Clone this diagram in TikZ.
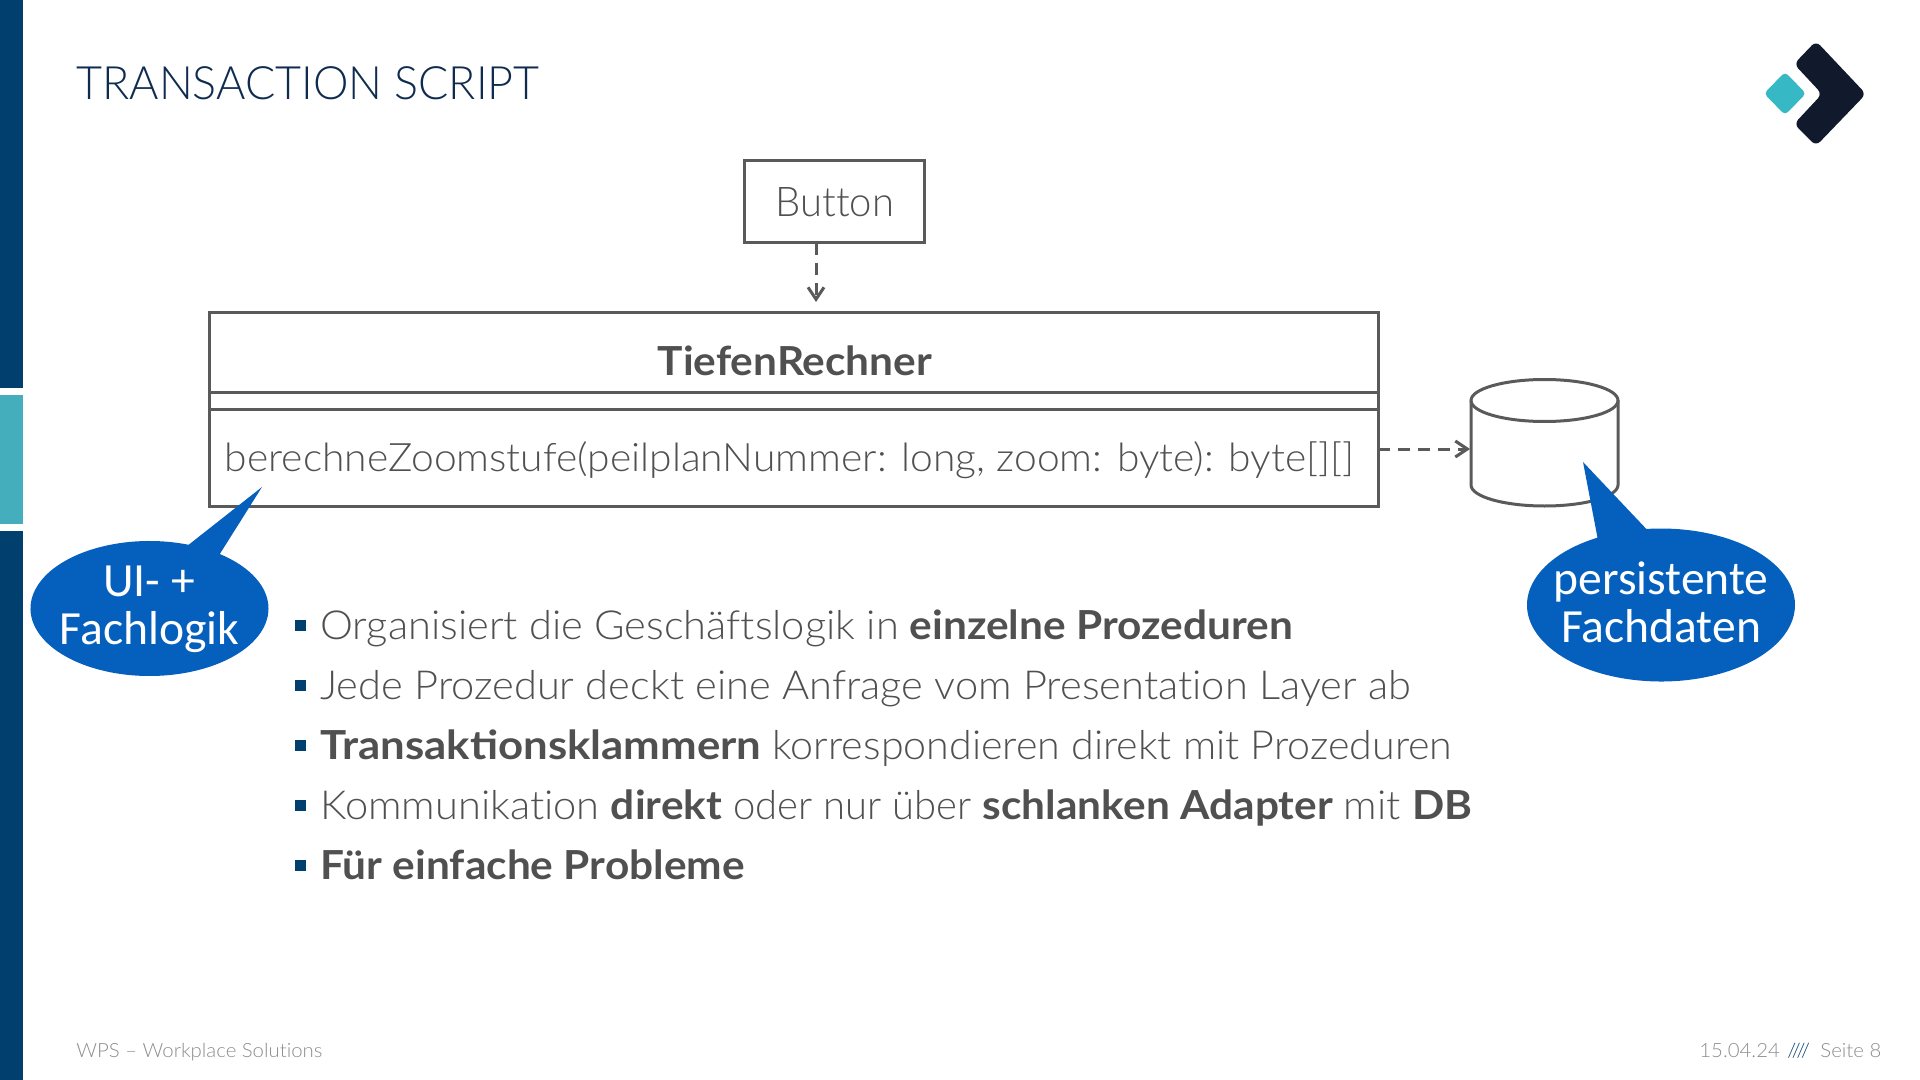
\documentclass[tikz,border=0pt]{standalone}
\usepackage{fontspec}
\setmainfont{Lato}[UprightFont={* Light},BoldFont={* Bold},Ligatures=NoCommon,FakeStretch=1.04,BoldFeatures={FakeStretch=1.06}]
\newfontfamily\narrowfont{Lato Light}[Ligatures=NoCommon,FakeStretch=0.975]
\newfontfamily\widefont{Lato Bold}[FakeStretch=1.094]
\newfontfamily\callfont{Carlito}
\usetikzlibrary{shapes.callouts,arrows.meta}
\definecolor{barblue}{HTML}{003F6E}
\definecolor{barteal}{HTML}{45AEBD}
\definecolor{titleblue}{HTML}{0F2C50}
\definecolor{textgrey}{HTML}{505050}
\definecolor{linegrey}{HTML}{5A5A5A}
\definecolor{footgrey}{HTML}{8C8C8C}
\definecolor{callblue}{HTML}{0560BD}
\definecolor{logodark}{HTML}{111A2C}
\definecolor{logoteal}{HTML}{36B8C5}
\tikzset{
  umlbox/.style={draw=linegrey,line width=1.5pt,inner sep=0pt,outer sep=0pt,anchor=north west},
  depend/.style={draw=linegrey,line width=1.5pt,dash pattern=on 6pt off 4pt,-{Straight Barb[length=6pt,width=8pt]}},
  callout/.style={ellipse callout,fill=callblue,inner sep=0pt},
  calltext/.style={anchor=base,inner sep=0pt,text=white,font=\callfont\fontsize{23.8}{28}\selectfont},
  bullet/.style={fill=barblue,inner sep=0pt,minimum size=5.5pt},
  bodytext/.style={anchor=base west,inner sep=0pt,text=textgrey,font=\fontsize{20}{24}\selectfont},
  foottext/.style={anchor=base west,inner sep=0pt,text=footgrey,font=\fontsize{9.8}{12}\selectfont}
}
\begin{document}
\begin{tikzpicture}[x=0.5pt,y=-0.5pt]  % one unit is one pixel of the slide

\useasboundingbox (0,0) rectangle (1920,1080);

% Side bar
\fill[barblue] (0,0) rectangle (23,388);
\fill[barteal] (0,395) rectangle (23,524);
\fill[barblue] (0,531) rectangle (23,1080);

% Title and logo
\node[anchor=base west,inner sep=0pt,text=titleblue,font=\narrowfont\fontsize{23}{28}\selectfont] (title) at (76,100) {TRANSACTION SCRIPT};
\fill[logoteal,rounded corners=2pt] (1785,72) -- (1806,93.5) -- (1785,115) -- (1764,93.5) -- cycle;
\fill[logodark,rounded corners=3pt] (1816,41) -- (1866,94) -- (1816,146) -- (1794,124) -- (1822,94) -- (1794,64) -- cycle;

% Class box (3 compartments)
\node[umlbox,minimum width=584.25pt,minimum height=39.5pt] (rechnerHead) at (209.5,313) {};
\node[umlbox,minimum width=584.25pt,minimum height=8.5pt] (rechnerAttr) at (209.5,392) {};
\node[umlbox,minimum width=584.25pt,minimum height=48.5pt] (rechnerOps) at (209.5,409) {};
\node[anchor=base,inner sep=0pt,text=textgrey,font=\bfseries\fontsize{20}{24}\selectfont] (rechnerName) at (795,375.5) {TiefenRechner};
\node[anchor=base west,inner sep=0pt,text=textgrey,font=\fontsize{19.6}{24}\selectfont] (rechnerCall) at (224.5,471.5) {berechneZoomstufe(peilplanNummer: long, zoom: byte): byte[][]};

% Button and data store
\node[umlbox,anchor=center,minimum width=90pt,minimum height=41pt] (button) at (834.5,202) {};
\node[anchor=base,inner sep=0pt,text=textgrey,font=\narrowfont\fontsize{20.5}{24}\selectfont] (buttonName) at (835,217) {Button};
\draw[linegrey,line width=1.5pt,fill=white] (1544.5,400.5) ellipse [x radius=36.75pt,y radius=10.5pt];
\draw[linegrey,line width=1.5pt] (1471,400.5) -- (1471,485) arc [start angle=180,end angle=360,x radius=36.75pt,y radius=10.5pt] -- (1618,400.5);

% Dependencies
\coordinate (depButton) at (816,302);
\coordinate (depStore) at (1470,449);
\draw[depend] (depButton |- button.south) -- (depButton);
\draw[depend] (depStore -| rechnerOps.east) -- (depStore);

% Callouts
\node[callout,minimum width=119pt,minimum height=67.5pt,callout pointer arc=17,callout absolute pointer={(262,487)}] (callLogic) at (149.5,608.5) {};
\node[calltext] (callLogicA) at (149,596) {UI- +};
\node[calltext] (callLogicB) at (149.5,644.5) {Fachlogik};
\node[callout,minimum width=134pt,minimum height=76.5pt,callout pointer arc=22,callout absolute pointer={(1583,462)}] (callData) at (1661,605) {};
\node[calltext] (callDataA) at (1661,594) {persistente};
\node[calltext] (callDataB) at (1661,642) {Fachdaten};

% Bullet list
\foreach \i/\y/\txt in {
  1/639/{Organisiert die Geschäftslogik in \textbf{einzelne Prozeduren}},
  2/699/{Jede Prozedur deckt eine Anfrage vom Presentation Layer ab},
  3/759/{{\widefont Transaktionsklammern} {\addfontfeature{FakeStretch=1.03}korrespondieren direkt mit Prozeduren}},
  4/819/{Kommunikation \textbf{direkt} {\addfontfeature{FakeStretch=1.0}oder nur über} \textbf{schlanken Adapter} mit \textbf{DB}},
  5/879/{\textbf{Für einfache Probleme}}} {
    \node[bodytext] (item\i) at (320,\y) {\txt};
    \node[bullet] (mark\i) at (300.5,{\y-14}) {};
}

% Footer
\node[foottext] (footLeft) at (76,1057.5) {WPS – Workplace Solutions};
\node[foottext] (footDate) at (1699,1057.5) {15.04.24};
\node[foottext,text=barblue] (footSep) at (1787,1057.5) {////};
\node[foottext] (footPage) at (1820,1057.5) {Seite 8};

\end{tikzpicture}
\end{document}
